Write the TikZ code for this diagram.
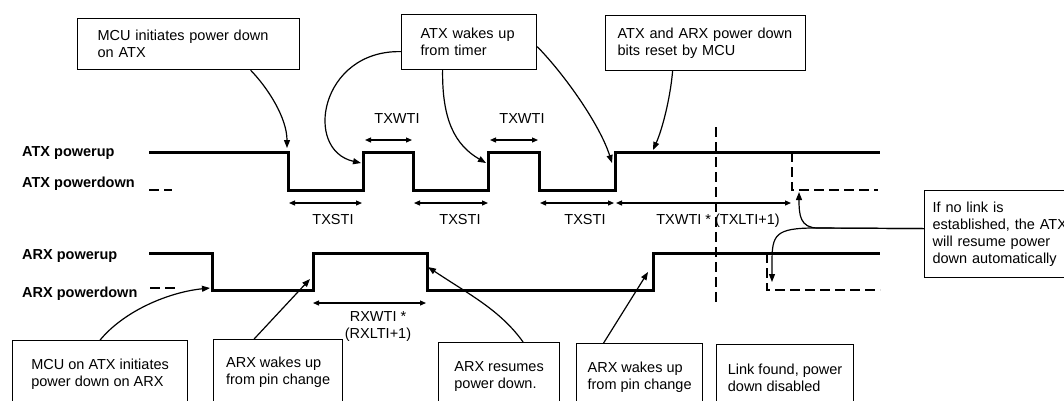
\documentclass[tikz,border=0pt]{standalone}
\usepackage{fontspec}
\setmainfont{Liberation Sans}
\usetikzlibrary{arrows.meta}

\begin{document}
\begin{tikzpicture}[x=1pt,y=-1pt,
  font=\fontsize{14.5}{17}\selectfont,
  sig/.style={line width=3pt,line join=miter},
  dsh/.style={line width=1.4pt,dash pattern=on 10pt off 5pt},
  box/.style={draw,line width=1.2pt,align=left,anchor=north west,inner ysep=0pt},
  call/.style={line width=1.2pt,-{Triangle[length=8pt,width=6pt]}},
  dim/.style={line width=1.2pt,{Triangle[length=6pt,width=5pt]}-{Triangle[length=6pt,width=5pt]}},
  signame/.style={font=\fontsize{14.5}{17}\selectfont\bfseries,anchor=base west,inner sep=0pt},
  lbl/.style={anchor=base,inner sep=0pt}]
  \clip (0,0) rectangle (1064,400);

  % signal names
  \node[signame] (atxup) at (22,156) {ATX powerup};
  \node[signame] (atxdn) at (22,187) {ATX powerdown};
  \node[signame] (arxup) at (22,259) {ARX powerup};
  \node[signame] (arxdn) at (22,297) {ARX powerdown};

  % ATX waveform
  \draw[sig] (149,152) -- (288,152) -- (288,190) -- (363,190) -- (363,152) -- (413,152)
    -- (413,190) -- (488,190) -- (488,152) -- (539,152) -- (539,190) -- (615,190)
    -- (615,152) -- (880,152);
  \draw[dsh] (792,152) -- (792,190) -- (878,190);
  \draw[dsh] (149,190) -- (172,190);

  % ARX waveform
  \draw[sig] (149,253) -- (212,253) -- (212,290) -- (313,290) -- (313,253) -- (427,253)
    -- (427,290) -- (653,290) -- (653,253) -- (880,253);
  \draw[dsh] (767,253) -- (767,290) -- (880,290);
  \draw[dsh] (150,288) -- (175,288);

  \draw[dsh] (716,127) -- (716,305);

  % intervals
  \foreach \a/\b in {365/412,490/538}
    \draw[dim] (\a,140) -- (\b,140);
  \foreach \a/\b in {289/362,414/488,540/614,616/791}
    \draw[dim] (\a,203) -- (\b,203);
  \draw[dim] (313,303) -- (426,303);
  \node[lbl] (wti1) at (397,123) {TXWTI};
  \node[lbl] (wti2) at (522,123) {TXWTI};
  \node[lbl] (sti1) at (333,224) {TXSTI};
  \node[lbl] (sti2) at (460,224) {TXSTI};
  \node[lbl] (sti3) at (585,224) {TXSTI};
  \node[lbl] (lti) at (718,224) {TXWTI * (TXLTI+1)};
  \node[align=center,anchor=north,inner sep=0pt] (rlti) at (378,311) {RXWTI *\\(RXLTI+1)};

  % callout boxes
  \node[box,inner xsep=20pt,text width=182pt,minimum height=51pt] (mcuatx) at (77,18)
    {MCU initiates power down\\on ATX};
  \node[box,inner xsep=19pt,text width=97pt,minimum height=55pt] (wakeatx) at (401,14)
    {ATX wakes up\\from timer};
  \node[box,inner xsep=12pt,text width=176pt,minimum height=55pt] (bitsreset) at (605,15)
    {ATX and ARX power down\\bits reset by MCU};
  \node[box,inner xsep=8pt,text width=180pt,minimum height=87pt] (nolink) at (924,190)
    {If no link is\\established, the ATX\\will resume power\\down automatically};
  \node[box,minimum width=175pt,minimum height=68pt] (mcuarx) at (12,340)
    {MCU on ATX initiates\\power down on ARX};
  \node[box,minimum width=129pt,minimum height=66pt] (wakearx1) at (213,339)
    {ARX wakes up\\from pin change};
  \node[box,minimum width=121pt,minimum height=68pt] (resumearx) at (438,342)
    {ARX resumes\\power down.};
  \node[box,minimum width=126pt,minimum height=68pt] (wakearx2) at (576,343)
    {ARX wakes up\\from pin change};
  \node[box,minimum width=137pt,minimum height=66pt] (linkfound) at (716,344)
    {Link found, power\\down disabled};

  % arrow targets on the waveforms
  \coordinate (t1) at (287,148);
  \coordinate (t2) at (361,163);
  \coordinate (t3) at (486,163);
  \coordinate (t4) at (612,163);
  \coordinate (t5) at (653,150);
  \coordinate (t6) at (799,192);
  \coordinate (t7) at (772,282);
  \coordinate (t8) at (210,288);
  \coordinate (t9) at (310,279);
  \coordinate (t10) at (428,267);
  \coordinate (t11) at (648,272);

  % callouts
  \draw[call] ([xshift=62pt]mcuatx.south) .. controls (268,88) and (287,118) .. (t1);
  \draw[call] ([yshift=-9.5pt]wakeatx.west) .. controls (320,50) and (303,150) .. (t2);
  \draw[call] ([xshift=-26.5pt]wakeatx.south) .. controls (442,120) and (455,145) .. (t3);
  \draw[call] ([yshift=-4.5pt]wakeatx.east) .. controls (565,75) and (600,125) .. (t4);
  \draw[call] ([xshift=-33pt]bitsreset.south) .. controls (670,100) and (662,130) .. (t5);
  \draw[call] ([yshift=5.5pt]nolink.west) -- (818,228) .. controls (800,228) and (799,215) .. (t6);
  \draw[call] ([yshift=5.5pt]nolink.west) -- (815,228) .. controls (775,228) and (772,235) .. (772,262) -- (t7);
  \draw[call] (mcuarx.north) .. controls (125,310) and (170,292) .. (t8);
  \draw[call] ([xshift=-24pt]wakearx1.north) -- (t9);
  \draw[call] ([xshift=24pt]resumearx.north) .. controls (500,310) and (470,295) .. (t10);
  \draw[call] ([xshift=-36pt]wakearx2.north) -- (t11);
\end{tikzpicture}
\end{document}
